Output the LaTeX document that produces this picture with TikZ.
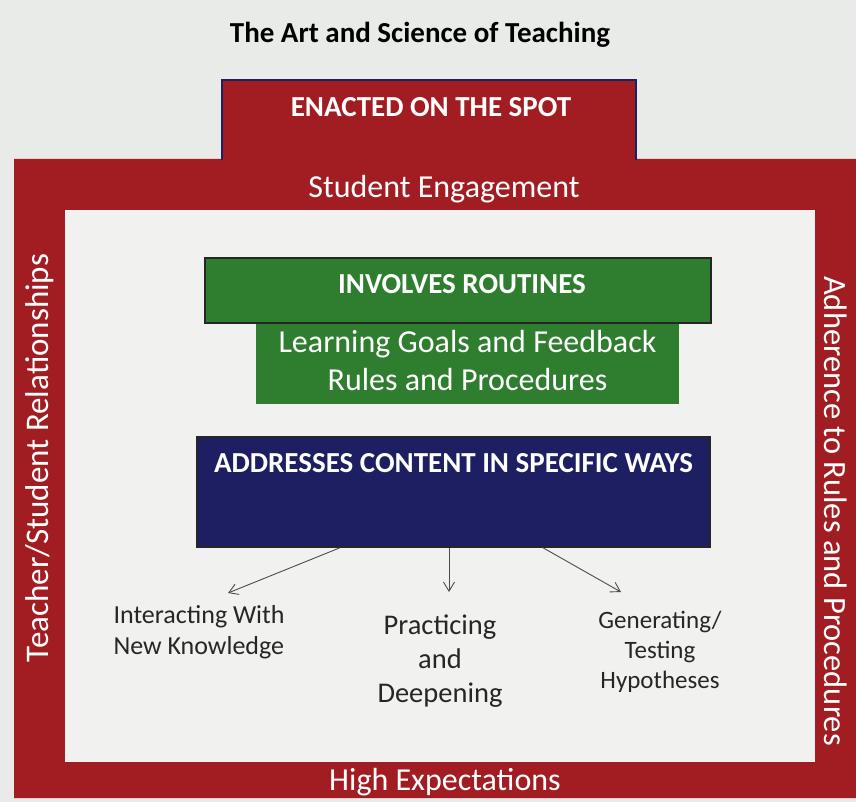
\documentclass[tikz,border=0pt]{standalone}
\usepackage{fontspec}
\setmainfont{Carlito}
\usetikzlibrary{arrows.meta}
\definecolor{posterred}{HTML}{A11D22}
\definecolor{postergreen}{HTML}{2F7D2F}
\definecolor{posterblue}{HTML}{1E1E62}
\definecolor{paper}{HTML}{E9EBE9}
\definecolor{sheet}{HTML}{F1F2F0}
\begin{document}
\begin{tikzpicture}[x=1pt,y=-1pt,
    band/.style={text=white,font=\fontsize{32}{38}\selectfont},
    boxhead/.style={text=white,font=\fontsize{29}{34}\selectfont\bfseries},
    way/.style={text=black!85,align=center},
    thin arrow/.style={-{Straight Barb[length=9pt,width=11pt]},draw=black!70,line width=0.9pt}]

    \fill[paper] (0,0) rectangle (856,802);
    \useasboundingbox (0,0) rectangle (856,802);

    \node[font=\fontsize{29}{34}\selectfont\bfseries] (title) at (420,35) {The Art and Science of Teaching};

    \fill[posterred,even odd rule] (14,159) rectangle (856,798) (65,210) rectangle (815,762);
    \fill[sheet] (65,210) rectangle (815,762);
    \fill[posterred] (222,80) rectangle (636,160);
    \draw[posterblue,line width=2.5pt] (222,160) -- (222,80) -- (636,80) -- (636,160);

    \node[boxhead] (spot) at (431,107) {ENACTED ON THE SPOT};
    \node[band] (engagement) at (444,189) {Student Engagement};
    \node[band] (expectations) at (445,782) {High Expectations};
    \node[band,font=\fontsize{33}{38}\selectfont,rotate=90] (relations) at (40,458) {Teacher/Student Relationships};
    \node[band,font=\fontsize{32.5}{38}\selectfont,rotate=-90] (adherence) at (836,511) {Adherence to Rules and Procedures};

    \node[fill=postergreen,minimum width=423pt,minimum height=82pt] (strategies) at (467.5,363) {};
    \node[fill=postergreen,draw=black!85,line width=2.5pt,minimum width=506pt,minimum height=65pt] (routines) at (458,290.5) {};
    \node[boxhead] (routineshead) at (462,284) {INVOLVES ROUTINES};
    \node[text=white,align=center,font=\fontsize{32}{38}\selectfont] (goals) at (467.5,361) {Learning Goals and Feedback\\Rules and Procedures};

    \node[fill=posterblue,draw=black!85,line width=1.5pt,minimum width=513pt,minimum height=110pt] (content) at (453.5,492) {};
    \node[boxhead] (contenthead) at (453.5,463) {ADDRESSES CONTENT IN SPECIFIC WAYS};

    \coordinate (tipleft) at (228,593);
    \coordinate (tipmid) at (449,592);
    \coordinate (tipright) at (621,592);
    \draw[thin arrow] ([xshift=-113.5pt]content.south) -- (tipleft);
    \draw[thin arrow] ([xshift=-4.5pt]content.south) -- (tipmid);
    \draw[thin arrow] ([xshift=89.5pt]content.south) -- (tipright);

    \node[way,align=left,anchor=west,font=\fontsize{26}{31}\selectfont] (interacting) at (110,632) {Interacting With\\New Knowledge};
    \node[way,font=\fontsize{28.5}{34}\selectfont] (practicing) at (440,661) {Practicing\\and\\Deepening};
    \node[way,font=\fontsize{25}{30}\selectfont] (generating) at (660,652) {Generating/\\Testing\\Hypotheses};
\end{tikzpicture}
\end{document}
